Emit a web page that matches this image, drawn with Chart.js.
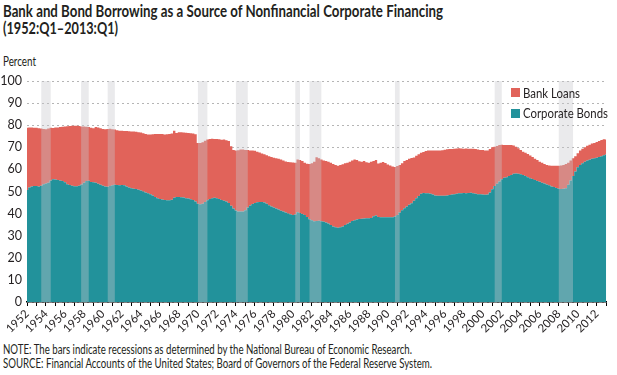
<!DOCTYPE html>
<html>
<head>
<meta charset="utf-8">
<script src="https://cdn.jsdelivr.net/npm/chart.js@4"></script>
<style>
  body { margin: 0; width: 617px; height: 375px; position: relative; background: #fff; font-family: Lato, "Open Sans", sans-serif; color: #231f20; overflow: hidden; }
  .txt { position: absolute; white-space: nowrap; display: inline-block; transform-origin: 0 0; }
  .title { font-weight: bold; font-size: 17px; line-height: 18px; }
  .note { font-size: 12.5px; line-height: 14px; }
  .leg { font-size: 13.5px; line-height: 16px; }
  .box { position: absolute; width: 9px; height: 9px; }
  #c { position: absolute; left: 0; top: 0; }
</style>
</head>
<body>
<div class="txt title" style="left:3px; top:2px;" data-w="440">Bank and Bond Borrowing as a Source of Nonfinancial Corporate Financing</div>
<div class="txt title" style="left:3px; top:19px;" data-w="115">(1952:Q1–2013:Q1)</div>
<div class="txt note" style="left:3px; top:55px; font-size:12.5px;" data-w="33">Percent</div>
<canvas id="c" width="617" height="340"></canvas>
<div class="box" style="left:511px; top:88px; background:#e1635a;"></div>
<div class="txt leg" style="left:523px; top:85px;" data-w="57">Bank Loans</div>
<div class="box" style="left:511px; top:109px; background:#22929b;"></div>
<div class="txt leg" style="left:523px; top:105px;" data-w="85">Corporate Bonds</div>
<div class="txt note" style="left:3px; top:343px;" data-w="409">NOTE: The bars indicate recessions as determined by the National Bureau of Economic Research.</div>
<div class="txt note" style="left:3px; top:357px;" data-w="429">SOURCE: Financial Accounts of the United States; Board of Governors of the Federal Reserve System.</div>
<script>
// quarterly categories 1952:Q1 .. 2013:Q1
const quarters = []
for (let y = 1952; y <= 2013; y++) {
  for (let q = 1; q <= 4; q++) {
    if (y === 2013 && q > 1) break
    quarters.push(y + ":Q" + q)
  }
}

// share of corporate bonds, percent (one row per year, Q1..Q4)
const corporateBonds = [
  50.7, 51.8, 52.3, 52.5, // 1952
  52.5, 52.3, 52.6, 53.3,
  53.6, 54.0, 55.0, 55.5,
  55.4, 55.2, 55.0, 54.8,
  54.2, 53.3, 52.9, 52.6,
  52.4, 52.4, 52.6, 53.2,
  54.0, 54.8, 54.9, 54.3,
  54.2, 54.0, 53.5, 53.0,
  52.6, 52.3, 52.2, 52.5, // 1960
  52.8, 53.0, 52.9, 52.8,
  52.9, 52.8, 52.3, 51.8,
  51.5, 51.3, 51.1, 50.8,
  50.4, 50.0, 49.6, 49.2,
  48.7, 48.2, 47.5, 47.0,
  46.6, 46.4, 46.2, 46.0,
  46.0, 46.3, 47.2, 47.5,
  47.5, 47.4, 47.3, 47.0,
  46.8, 46.5, 46.2, 45.5,
  44.5, 44.2, 44.5, 45.3, // 1970
  46.0, 46.6, 47.0, 47.2,
  47.0, 46.6, 46.2, 45.8,
  45.5, 44.8, 43.5, 42.3,
  41.4, 41.0, 40.9, 40.9,
  41.5, 42.8, 43.7, 44.3,
  44.8, 45.1, 45.3, 45.2,
  45.0, 44.5, 43.8, 43.2,
  42.8, 42.3, 41.8, 41.3,
  40.9, 40.5, 40.1, 39.7,
  39.4, 39.6, 40.6, 40.3, // 1980
  39.8, 39.4, 38.5, 37.5,
  37.0, 36.5, 36.6, 36.8,
  36.5, 36.3, 36.0, 35.5,
  34.8, 34.2, 33.8, 33.6,
  33.8, 34.2, 34.8, 35.4,
  36.0, 36.6, 37.0, 37.3,
  37.6, 37.7, 37.8, 37.9,
  37.9, 38.0, 38.8, 39.1,
  38.5, 38.4, 38.3, 38.3,
  38.3, 38.3, 38.4, 38.7, // 1990
  39.4, 40.5, 41.5, 42.4,
  43.2, 44.0, 44.7, 45.8,
  47.0, 48.0, 49.0, 49.3,
  49.2, 49.2, 49.0, 48.6,
  48.2, 48.1, 48.1, 48.1,
  48.1, 48.2, 48.4, 48.6,
  48.8, 49.0, 49.2, 49.2,
  49.3, 49.2, 49.3, 49.4,
  49.2, 49.0, 48.8, 48.7,
  48.6, 48.5, 48.6, 49.5, // 2000
  51.0, 52.5, 53.5, 54.5,
  55.5, 56.2, 56.5, 57.0,
  57.5, 58.0, 58.2, 58.0,
  57.8, 57.5, 57.0, 56.5,
  56.0, 55.6, 55.2, 54.8,
  54.4, 54.0, 53.6, 53.2,
  52.8, 52.3, 52.0, 51.6,
  51.3, 51.1, 51.2, 51.5,
  53.0, 55.0, 57.0, 59.0,
  61.0, 62.0, 62.8, 63.5, // 2010
  64.0, 64.4, 64.8, 65.0,
  65.3, 65.6, 66.0, 66.4,
  66.7                    // 2013:Q1
]

// share of bank loans, percent (stacked on bonds)
const bankLoans = [
  28.1, 27.2, 26.7, 26.3, // 1952
  26.3, 26.3, 25.9, 25.0,
  24.6, 24.5, 23.8, 23.2,
  23.6, 23.8, 24.2, 24.5,
  25.2, 26.2, 26.7, 27.2,
  27.4, 27.4, 27.0, 26.2,
  25.4, 24.5, 24.3, 24.5,
  24.4, 25.2, 25.5, 25.6,
  25.7, 25.9, 26.1, 25.9, // 1960
  25.4, 25.0, 24.8, 24.7,
  24.6, 24.6, 25.1, 25.5,
  25.7, 25.8, 25.9, 26.0,
  26.3, 26.4, 26.4, 26.6,
  27.1, 27.7, 28.5, 29.0,
  29.4, 29.6, 29.6, 29.9,
  30.0, 29.9, 30.3, 29.0,
  29.3, 29.4, 29.4, 29.6,
  29.7, 29.9, 30.1, 30.4,
  27.5, 27.8, 27.8, 27.7, // 1970
  27.5, 27.1, 26.9, 26.6,
  26.7, 27.0, 27.2, 27.7,
  27.7, 28.0, 27.0, 26.5,
  27.1, 27.7, 28.1, 28.1,
  27.3, 26.0, 24.9, 24.3,
  23.6, 22.9, 22.3, 22.0,
  21.8, 21.9, 22.2, 22.4,
  22.5, 22.7, 23.0, 23.2,
  23.1, 23.1, 23.2, 23.5,
  23.7, 23.4, 23.9, 23.9, // 1980
  24.0, 23.6, 24.1, 25.0,
  25.8, 27.0, 28.9, 28.2,
  28.0, 27.7, 27.8, 28.0,
  28.2, 28.3, 28.2, 28.1,
  28.2, 28.1, 28.0, 27.6,
  27.5, 27.4, 27.5, 26.9,
  26.1, 25.8, 26.0, 25.3,
  25.1, 25.5, 25.0, 25.1,
  24.2, 24.6, 25.0, 24.6,
  23.9, 23.5, 22.9, 22.4, // 1990
  22.1, 21.5, 21.3, 21.4,
  21.1, 20.8, 20.5, 19.6,
  19.2, 18.8, 18.5, 18.6,
  19.1, 19.3, 19.6, 19.9,
  20.4, 20.4, 20.5, 20.6,
  20.8, 20.9, 20.8, 20.6,
  20.6, 20.5, 20.4, 20.3,
  20.1, 20.3, 20.1, 19.9,
  20.2, 20.2, 20.2, 20.1,
  20.2, 20.1, 19.9, 19.7, // 2000
  19.0, 17.8, 17.1, 16.5,
  15.7, 14.8, 14.5, 14.0,
  13.5, 12.8, 12.1, 11.6,
  11.0, 10.5, 10.5, 10.5,
  10.3, 10.0, 9.6, 9.4,
  9.1, 9.0, 8.9, 8.8,
  9.0, 9.3, 9.6, 10.1,
  10.4, 10.7, 10.8, 11.0,
  10.0, 9.0, 8.0, 7.0,
  6.3, 6.5, 6.5, 6.5,     // 2010
  6.7, 6.8, 6.9, 7.0,
  7.1, 7.2, 7.3, 7.2,
  6.8                     // 2013:Q1
]

// NBER recessions, in years (start, end)
const recessions = [
  [1953.5, 1954.5], [1957.7, 1958.5], [1960.5, 1961.25], [1970.0, 1971.0],
  [1974.0, 1975.25], [1980.25, 1980.75], [1981.75, 1983.0], [1990.75, 1991.25],
  [2001.25, 2002.0], [2008.0, 2009.5]
]

const yTicks = [0, 10, 20, 30, 40, 50, 60, 70, 80, 90, 100]

const recessionBars = {
  id: "recessionBars",
  afterDatasetsDraw(chart) {
    const { ctx, chartArea, scales } = chart
    const x = scales.x
    const top = scales.y.getPixelForValue(100)
    ctx.save()
    ctx.fillStyle = "rgba(200, 200, 205, 0.38)"
    recessions.forEach(([a, b]) => {
      const x0 = x.getPixelForValue((a - 1952) * 4)
      const x1 = x.getPixelForValue((b - 1952) * 4)
      ctx.fillRect(x0, top, x1 - x0, chartArea.bottom - top)
    })
    ctx.restore()
  }
}

const textColor = "#231f20"

new Chart(document.getElementById("c"), {
  type: "line",
  data: {
    labels: quarters,
    datasets: [
      {
        label: "Corporate Bonds",
        data: corporateBonds,
        backgroundColor: "#22929b",
        borderWidth: 0,
        pointRadius: 0,
        fill: "origin",
        stepped: "middle",
      },
      {
        label: "Bank Loans",
        data: bankLoans,
        backgroundColor: "#e1635a",
        borderWidth: 0,
        pointRadius: 0,
        fill: "-1",
        stepped: "middle",
      }
    ]
  },
  options: {
    responsive: false,
    animation: false,
    layout: { padding: { top: 81, right: 5, left: 0, bottom: 0 } },
    plugins: { legend: { display: false }, tooltip: { enabled: false } },
    scales: {
      x: {
        type: "category",
        offset: false,
        grid: { drawOnChartArea: false, drawTicks: true, tickLength: 4, color: "#000", lineWidth: 1 },
        border: { display: true, color: "#000", width: 1.5 },
        ticks: {
          autoSkip: false,
          minRotation: 45,
          maxRotation: 45,
          padding: 1,
          color: textColor,
          font: { family: "Lato", size: 11.5 },
          callback(value) {
            const lab = this.getLabelForValue(value)
            if (!lab.endsWith("Q1")) return null
            const yr = parseInt(lab)
            return yr % 2 === 0 ? String(yr) : ""
          }
        },
        afterFit(scale) { scale.height = 38 }
      },
      y: {
        stacked: true,
        min: 0,
        max: 100,
        afterBuildTicks(scale) { scale.ticks = yTicks.map(v => ({ value: v })) },
        grid: { drawTicks: false, color: "#b5b5b5", lineWidth: 1 },
        border: { display: false, dash: [2, 3] },
        ticks: { padding: 5, color: textColor, font: { family: "Lato", size: 12.5 } },
        afterFit(scale) { scale.width = 27 }
      }
    }
  },
  plugins: [recessionBars]
})

document.querySelectorAll("[data-w]").forEach(el => {
  const w = el.getBoundingClientRect().width
  el.style.transform = "scaleX(" + (parseFloat(el.dataset.w) / w) + ")"
})
</script>
</body>
</html>
